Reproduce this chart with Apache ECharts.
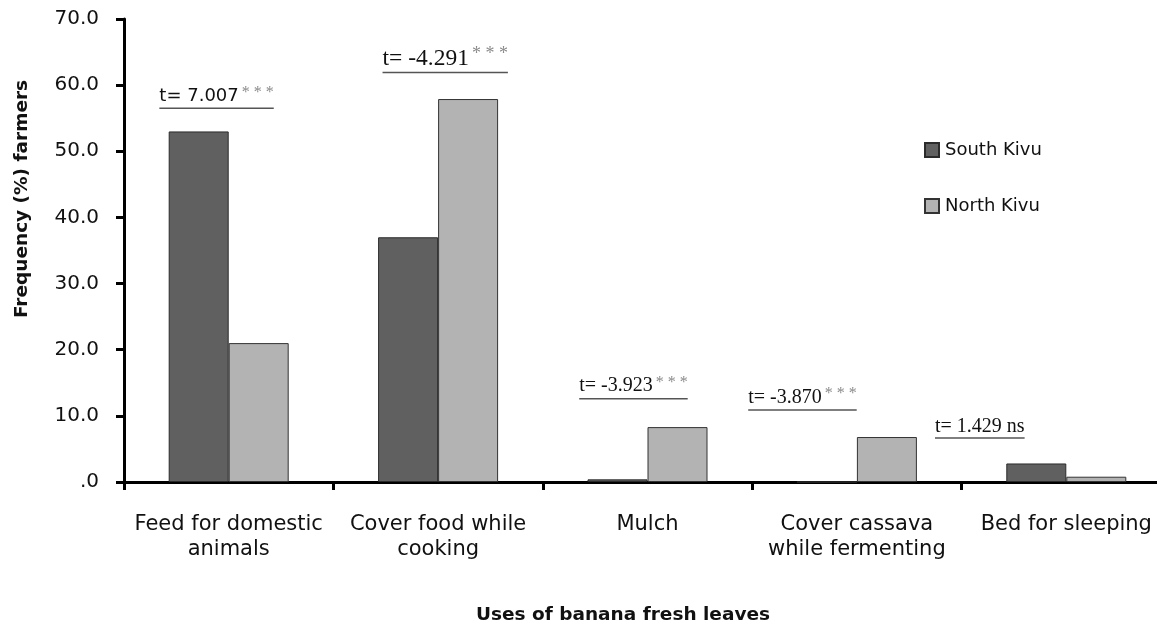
<!DOCTYPE html>
<html>
<head>
<meta charset="utf-8">
<script src="https://cdn.jsdelivr.net/npm/echarts@6/dist/echarts.min.js"></script>
<style>
  html, body { margin: 0; padding: 0; background: #fff; overflow: hidden; }
  /* the plot area in the original runs a little past the right edge of the picture */
  #chart { width: 1171px; height: 627px; }
</style>
</head>
<body>
<div id="chart"></div>
<script>
// uses of banana fresh leaves, % of farmers per province
const categories = ["Feed for domestic\nanimals", "Cover food while\ncooking", "Mulch", "Cover cassava\nwhile fermenting", "Bed for sleeping"];
const southKivu = [53, 37, 0.4, 0, 2.8];
const northKivu = [21, 57.9, 8.3, 6.8, 0.8];
const yMin = 0, yMax = 70, yStep = 10;

// t-test annotations above each group (level = underline height in % units)
const tValues = ["t= 7.007", "t= -4.291", "t= -3.923", "t= -3.870", "t= 1.429 ns"];
const tStars = ["* * *", "* * *", "* * *", "* * *", ""];
const tLevel = [56.5, 61.9, 12.6, 10.9, 6.65];

// styling of the annotations (shift is a fraction of the category band)
const tShift = [-0.058, 0.034, -0.067, -0.26, -0.413];
const tSize = [18, 23.5, 20, 20, 20];
const tStarSize = [16, 18, 16, 16, 16];
const tFamily = ['"DejaVu Sans"', '"Liberation Serif"', '"Liberation Serif"', '"Liberation Serif"', '"Liberation Serif"'];

const ctx = document.createElement("canvas").getContext("2d");
function textWidth(txt, size, family) {
  ctx.font = size + "px " + family;
  return ctx.measureText(txt).width;
}

const chart = echarts.init(document.getElementById("chart"), null, { renderer: "canvas" });

chart.setOption({
  animation: false,
  backgroundColor: "#fff",
  grid: { left: 124, right: 0, top: 19, bottom: 145, containLabel: false },
  legend: {
    data: ["South Kivu", "North Kivu"],
    orient: "vertical",
    left: 924,
    top: 141,
    padding: 0,
    itemWidth: 14,
    itemHeight: 14,
    itemGap: 38,
    icon: "rect",
    textStyle: { fontFamily: "DejaVu Sans", fontSize: 18, color: "#111", padding: [0, 0, 0, 1] }
  },
  xAxis: {
    type: "category",
    data: categories,
    axisLine: { lineStyle: { color: "#000", width: 3 } },
    axisTick: { show: true, length: 8, lineStyle: { color: "#000", width: 3 } },
    axisLabel: {
      interval: 0,
      margin: 30,
      fontFamily: "DejaVu Sans",
      fontSize: 21,
      lineHeight: 25,
      color: "#111"
    },
    splitLine: { show: false }
  },
  yAxis: {
    type: "value",
    min: yMin,
    max: yMax,
    interval: yStep,
    axisLine: { show: true, lineStyle: { color: "#000", width: 3 } },
    axisTick: { show: true, length: 8, lineStyle: { color: "#000", width: 3 } },
    axisLabel: {
      margin: 25,
      fontFamily: "DejaVu Sans",
      fontSize: 20,
      color: "#111",
      formatter: v => (v === 0 ? ".0" : v.toFixed(1))
    },
    splitLine: { show: false }
  },
  graphic: [
    {
      type: "text",
      x: 22,
      y: 199,
      rotation: Math.PI / 2,
      style: {
        text: "Frequency (%) farmers",
        fontFamily: "DejaVu Sans",
        fontWeight: "bold",
        fontSize: 18.5,
        fill: "#111",
        align: "center",
        verticalAlign: "middle"
      }
    },
    {
      type: "text",
      x: 623,
      y: 615,
      style: {
        text: "Uses of banana fresh leaves",
        fontFamily: "DejaVu Sans",
        fontWeight: "bold",
        fontSize: 18.5,
        fill: "#111",
        align: "center",
        verticalAlign: "middle"
      }
    }
  ],
  series: [
    {
      name: "South Kivu",
      type: "bar",
      data: southKivu,
      barWidth: 60,
      barGap: "0%",
      itemStyle: { color: "#606060", borderColor: "#2b2b2b", borderWidth: 1 }
    },
    {
      name: "North Kivu",
      type: "bar",
      data: northKivu,
      barWidth: 60,
      barGap: "0%",
      itemStyle: { color: "#b3b3b3", borderColor: "#333", borderWidth: 1 }
    },
    {
      name: "t-test",
      type: "custom",
      clip: false,
      silent: true,
      data: categories.map((c, i) => [i, tLevel[i]]),
      encode: { x: 0, y: 1 },
      renderItem: function (params, api) {
        const i = api.value(0);
        const pt = api.coord([i, api.value(1)]);
        const band = api.size([1, 0])[0];
        const cx = pt[0] + tShift[i] * band;
        const gap = tStars[i] ? 3 : 0;
        const w = textWidth(tValues[i], tSize[i], tFamily[i]) + gap +
          (tStars[i] ? textWidth(tStars[i], tStarSize[i], '"Liberation Serif"') : 0);
        const txt = "{a|" + tValues[i] + "}" + (tStars[i] ? "{s|" + tStars[i] + "}" : "");
        return {
          type: "group",
          children: [
            {
              type: "text",
              style: {
                x: cx - w / 2,
                y: pt[1] - 1,
                text: txt,
                align: "left",
                verticalAlign: "bottom",
                rich: {
                  a: { fontFamily: tFamily[i], fontSize: tSize[i], fill: "#111" },
                  s: {
                    fontFamily: "Liberation Serif",
                    fontSize: tStarSize[i],
                    fill: "#8a8a8a",
                    padding: [0, 0, tSize[i] * 0.35, gap]
                  }
                }
              }
            },
            {
              type: "line",
              shape: { x1: cx - w / 2, y1: pt[1], x2: cx + w / 2, y2: pt[1] },
              style: { stroke: "#555", lineWidth: 1.5 }
            }
          ]
        };
      }
    }
  ]
});
</script>
</body>
</html>
